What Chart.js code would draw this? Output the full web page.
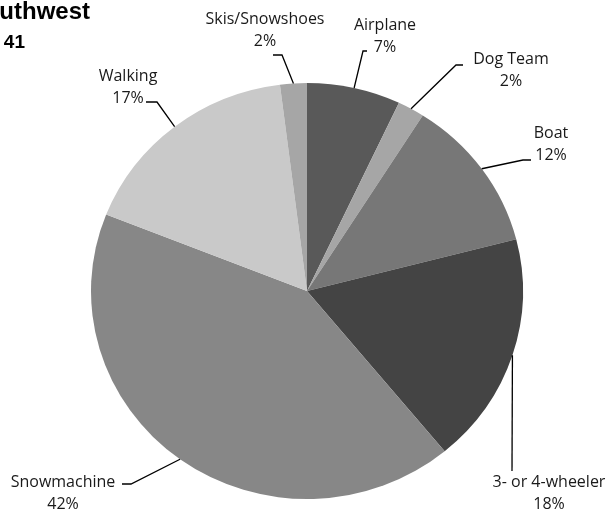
<!DOCTYPE html>
<html>
<head>
<meta charset="utf-8">
<script src="https://cdn.jsdelivr.net/npm/chart.js@4/dist/chart.umd.min.js"></script>
<style>
  html, body { margin: 0; padding: 0; background: #fff; }
  #wrap { width: 611px; height: 512px; position: relative; }
</style>
</head>
<body>
<div id="wrap"><canvas id="modeChart"></canvas></div>
<script>
const ctx = document.getElementById('modeChart');

// travel modes, share of trips (%)
const modes = ['Airplane', 'Dog Team', 'Boat', '3- or 4-wheeler', 'Snowmachine', 'Walking', 'Skis/Snowshoes'];
const shares = [7, 2, 12, 18, 42, 17, 2];
const shades = ['#595959', '#a6a6a6', '#777777', '#444444', '#878787', '#c9c9c9', '#a6a6a6'];

const regionTitle = 'Southwest';
const sampleText = 'n = 41';

// where each callout text sits, and the bend of its leader line
const callouts = [
    { tx: 385, ty: 25, end: [367, 51], bend: [363, 51] },
    { tx: 511, ty: 59, end: [463, 65], bend: [456, 65] },
    { tx: 551, ty: 133, end: [531, 160], bend: [523, 160] },
    { tx: 549, ty: 482, end: [512, 471], bend: [512, 471] },
    { tx: 63, ty: 482, end: [122, 484], bend: [131, 484] },
    { tx: 128, ty: 76, end: [146, 102], bend: [157, 102] },
    { tx: 265, ty: 19, end: [273, 55], bend: [282, 55] }
];

// pie is a bit squashed vertically
const squash = 208 / 216;

const squashPie = {
    id: 'squashPie',
    beforeDatasetsDraw(chart) {
        const arc = chart.getDatasetMeta(0).data[0];
        const c = chart.ctx;
        c.save();
        c.translate(arc.x, arc.y);
        c.scale(1, squash);
        c.translate(-arc.x, -arc.y);
    },
    afterDatasetsDraw(chart) {
        chart.ctx.restore();
    }
};

const calloutLabels = {
    id: 'calloutLabels',
    afterDraw(chart) {
        const c = chart.ctx;
        const arcs = chart.getDatasetMeta(0).data;
        c.save();
        c.strokeStyle = '#000';
        c.lineWidth = 1.3;
        arcs.forEach((arc, i) => {
            const p = callouts[i];
            const mid = (arc.startAngle + arc.endAngle) / 2;
            const ax = arc.x + arc.outerRadius * Math.cos(mid);
            const ay = arc.y + arc.outerRadius * squash * Math.sin(mid);
            c.beginPath();
            c.moveTo(ax, ay);
            c.lineTo(p.bend[0], p.bend[1]);
            c.lineTo(p.end[0], p.end[1]);
            c.stroke();

            c.fillStyle = '#1a1a1a';
            c.font = '16px "Open Sans"';
            c.textAlign = 'center';
            c.textBaseline = 'middle';
            c.fillText(modes[i], p.tx, p.ty);
            c.fillText(shares[i] + '%', p.tx, p.ty + 22);
        });

        // heading, runs off the left edge
        c.fillStyle = '#000';
        c.textAlign = 'right';
        c.textBaseline = 'alphabetic';
        c.font = 'bold 24px "Liberation Sans"';
        c.fillText(regionTitle, 90, 19);
        c.font = 'bold 19px "Liberation Sans"';
        c.fillText(sampleText, 25, 48);
        c.restore();
    }
};

new Chart(ctx, {
    type: 'pie',
    data: {
        labels: modes,
        datasets: [{
            data: shares,
            backgroundColor: shades,
            borderWidth: 0
        }]
    },
    options: {
        responsive: true,
        maintainAspectRatio: false,
        animation: false,
        layout: {
            padding: { top: 75, bottom: 5, left: 91, right: 88 }
        },
        plugins: {
            legend: { display: false },
            tooltip: { enabled: false }
        }
    },
    plugins: [squashPie, calloutLabels]
});
</script>
</body>
</html>
